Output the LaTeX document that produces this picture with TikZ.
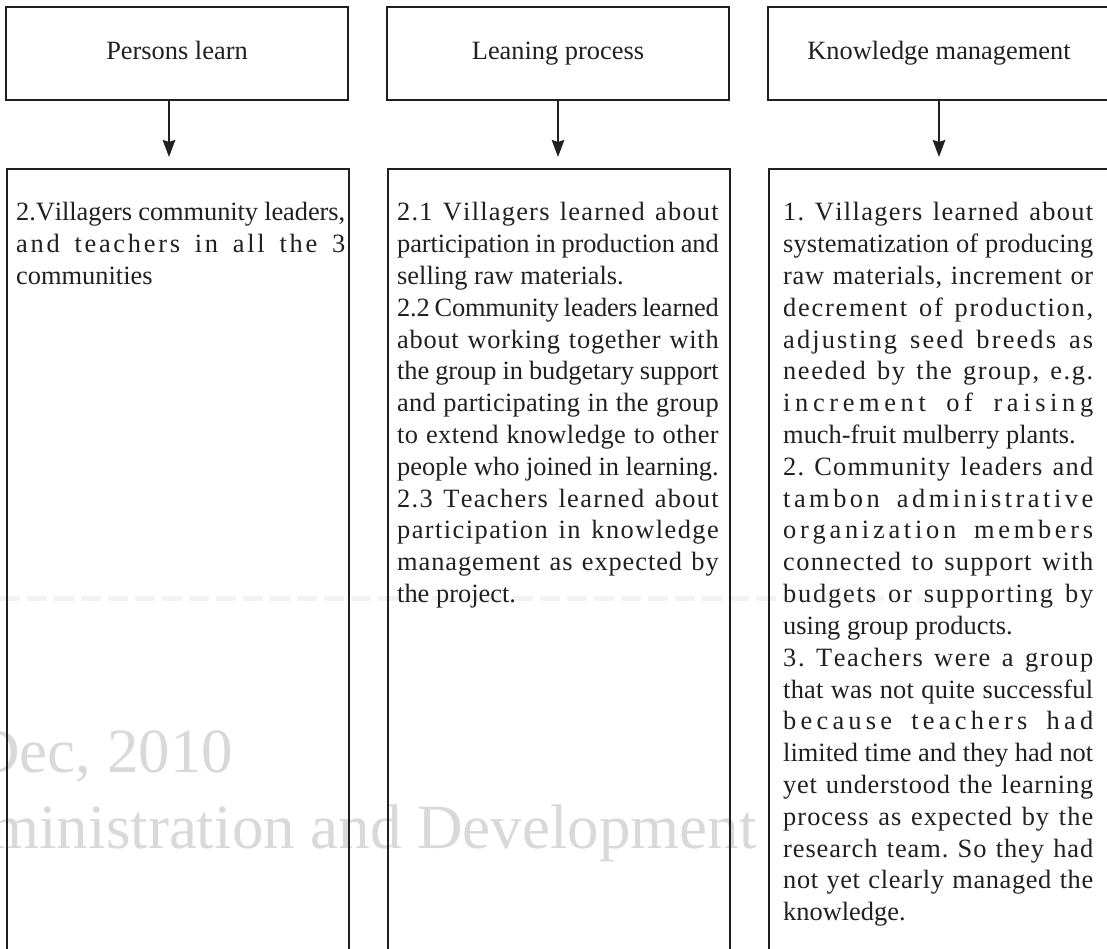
\documentclass[tikz,border=0pt]{standalone}
\usepackage{fontspec}
\setmainfont{Liberation Serif}
\usetikzlibrary{arrows.meta}
\definecolor{boxc}{HTML}{231F20}
\definecolor{txtc}{HTML}{231F20}
\definecolor{wmc}{HTML}{D9D9D9}
\definecolor{dashc}{HTML}{F2F4F3}
\ExplSyntaxOn
\seq_new:N \l__rs_words_seq
\bool_new:N \l__rs_firstword_bool
\bool_new:N \l__rs_firstchar_bool
\NewDocumentCommand \spreadline { m }
 {
  \seq_set_split:Nnn \l__rs_words_seq { ~ } { #1 }
  \hbox_to_wd:nn { \linewidth }
   {
    \bool_set_true:N \l__rs_firstword_bool
    \seq_map_inline:Nn \l__rs_words_seq
     {
      \bool_if:NTF \l__rs_firstword_bool
       { \bool_set_false:N \l__rs_firstword_bool }
       { \skip_horizontal:n { 0.25em plus 3fil minus 0.12em } }
      \bool_set_true:N \l__rs_firstchar_bool
      \tl_map_inline:nn { ##1 }
       {
        \bool_if:NTF \l__rs_firstchar_bool
         { \bool_set_false:N \l__rs_firstchar_bool }
         { \skip_horizontal:n { 0pt plus 1fil minus 0.4pt } }
        ####1
       }
     }
   }
 }
\ExplSyntaxOff
\newcommand\natline[1]{\hbox{#1}}
\newcommand\txtblock[2]{\parbox[t]{#1pt}{\fontsize{26.4}{31.8}\selectfont\lineskiplimit=-100pt\lineskip=0pt\parindent=0pt #2}}
\tikzset{
  box/.style={draw=boxc, line width=2pt, inner sep=0pt},
  head/.style={box, minimum width=342pt, minimum height=93pt, text height=18.5pt, text depth=6.5pt, text=txtc, font=\fontsize{26.4}{31.8}\selectfont},
  column/.style={box, anchor=north west, minimum width=342pt, minimum height=850pt},
  arr/.style={draw=boxc, line width=2pt, -{Stealth[length=17pt,width=12.5pt,inset=2pt]}, shorten >=11pt},
  body/.style={inner sep=0pt, anchor=base west, text=txtc},
  wm/.style={inner sep=0pt, text=wmc, font=\fontsize{63}{75.6}\selectfont},
}
\begin{document}
\begin{tikzpicture}[x=1pt,y=-1pt]
\useasboundingbox (0,0) rectangle (1107,949);
\clip (0,0) rectangle (1107,949);
\fill[white] (0,0) rectangle (1107,949);
% watermark
\node[wm, anchor=base west] (wm1) at (-26,772) {Dec, 2010};
\node[wm, anchor=base east] (wm2) at (757,848) {ministration and Development};
\draw[dashc, line width=5pt, dash pattern=on 20pt off 7pt] (0,598) -- (930,598);
% headers
\node[head] (t1) at (177,53.5) {Persons learn};
\node[head] (t2) at (558,53.5) {Leaning process};
\node[head] (t3) at (939,53.5) {Knowledge management};
% columns
\node[column] (b1) at (6,168) {};
\node[column] (b2) at (387,168) {};
\node[column] (b3) at (768,168) {};
% arrows
\draw[arr] ([xshift=-8pt]t1.south) -- ([xshift=-8pt]t1.south |- b1.north);
\draw[arr] (t2.south) -- (t2.south |- b2.north);
\draw[arr] (t3.south) -- (t3.south |- b3.north);
% texts
\node[body] (c1) at (16,221) {\txtblock{329}{%
\spreadline{2.Villagers community leaders,}
\spreadline{and teachers in all the 3}
\natline{communities}}};
\node[body] (c2) at (397,221) {\txtblock{321.5}{%
\spreadline{2.1 Villagers learned about}
\spreadline{participation in production and}
\natline{selling raw materials.}
\spreadline{2.2 Community leaders learned}
\spreadline{about working together with}
\spreadline{the group in budgetary support}
\spreadline{and participating in the group}
\spreadline{to extend knowledge to other}
\spreadline{people who joined in learning.}
\spreadline{2.3 Teachers learned about}
\spreadline{participation in knowledge}
\spreadline{management as expected by}
\natline{the project.}}};
\node[body] (c3) at (783,221) {\txtblock{310}{%
\spreadline{1. Villagers learned about}
\spreadline{systematization of producing}
\spreadline{raw materials, increment or}
\spreadline{decrement of production,}
\spreadline{adjusting seed breeds as}
\spreadline{needed by the group, e.g.}
\spreadline{increment of raising}
\natline{much-fruit mulberry plants.}
\spreadline{2. Community leaders and}
\spreadline{tambon administrative}
\spreadline{organization members}
\spreadline{connected to support with}
\spreadline{budgets or supporting by}
\natline{using group products.}
\spreadline{3. Teachers were a group}
\spreadline{that was not quite successful}
\spreadline{because teachers had}
\spreadline{limited time and they had not}
\spreadline{yet understood the learning}
\spreadline{process as expected by the}
\spreadline{research team. So they had}
\spreadline{not yet clearly managed the}
\natline{knowledge.}}};
\end{tikzpicture}
\end{document}
